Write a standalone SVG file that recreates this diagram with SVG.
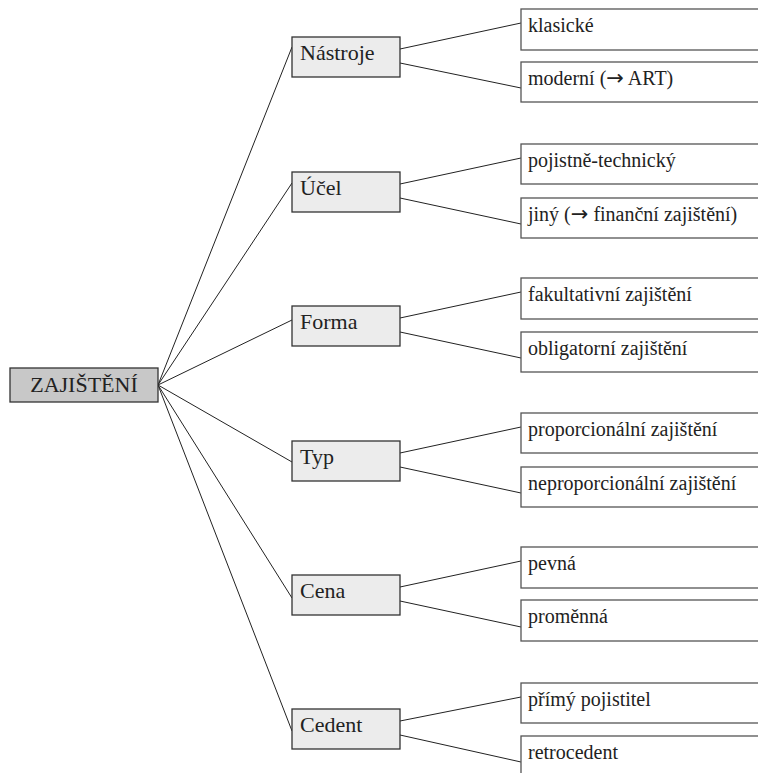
<svg xmlns="http://www.w3.org/2000/svg" width="758" height="773" viewBox="0 0 758 773">
<style>
text{font-family:"Liberation Serif","Times New Roman",serif;fill:#222}
.arr{font-family:"DejaVu Sans",sans-serif;font-size:21px}
.root rect{fill:#c8c8c8;stroke:#333;stroke-width:1.3}
.mid rect{fill:#ececec;stroke:#333;stroke-width:1.3}
.leaf rect{fill:#fff;stroke:#555;stroke-width:1.3}
.mid text,.root text{font-size:22px}
.leaf text{font-size:20px}
#connectors line{stroke:#222;stroke-width:1}
</style>
<rect width="758" height="773" fill="#fff"/>
<g id="connectors">
<line x1="158" y1="385" x2="292" y2="47"/>
<line x1="158" y1="385" x2="292" y2="183"/>
<line x1="158" y1="385" x2="292" y2="320"/>
<line x1="158" y1="385" x2="292" y2="462"/>
<line x1="158" y1="385" x2="292" y2="598"/>
<line x1="158" y1="385" x2="292" y2="731"/>
<line x1="400" y1="49" x2="521" y2="23"/>
<line x1="400" y1="63" x2="521" y2="88"/>
<line x1="400" y1="184" x2="521" y2="158"/>
<line x1="400" y1="198" x2="521" y2="224"/>
<line x1="400" y1="318" x2="521" y2="292"/>
<line x1="400" y1="332" x2="521" y2="358"/>
<line x1="400" y1="453" x2="521" y2="427"/>
<line x1="400" y1="467" x2="521" y2="493"/>
<line x1="400" y1="587" x2="521" y2="561"/>
<line x1="400" y1="601" x2="521" y2="627"/>
<line x1="400" y1="721" x2="521" y2="697"/>
<line x1="400" y1="735" x2="521" y2="762"/>
</g>
<g id="root" class="root"><rect x="10" y="368" width="148" height="34"/><text x="84" y="392" text-anchor="middle">ZAJIŠTĚNÍ</text></g>
<g id="nastroje" class="mid"><rect x="292" y="37" width="108" height="40"/><text x="300" y="60">Nástroje</text></g>
<g id="ucel" class="mid"><rect x="292" y="172" width="108" height="40"/><text x="300" y="195">Účel</text></g>
<g id="forma" class="mid"><rect x="292" y="306" width="108" height="40"/><text x="300" y="329">Forma</text></g>
<g id="typ" class="mid"><rect x="292" y="441" width="108" height="40"/><text x="300" y="464">Typ</text></g>
<g id="cena" class="mid"><rect x="292" y="575" width="108" height="40"/><text x="300" y="598">Cena</text></g>
<g id="cedent" class="mid"><rect x="292" y="709" width="108" height="40"/><text x="300" y="732">Cedent</text></g>
<g id="klasicke" class="leaf"><rect x="521" y="9" width="250" height="41"/><text x="528" y="32">klasické</text></g>
<g id="moderni" class="leaf"><rect x="521" y="62" width="250" height="40"/><text x="528" y="85">moderní (<tspan class="arr">→</tspan> ART)</text></g>
<g id="pojistne" class="leaf"><rect x="521" y="144" width="250" height="40"/><text x="528" y="167">pojistně-technický</text></g>
<g id="jiny" class="leaf"><rect x="521" y="198" width="250" height="40"/><text x="528" y="221">jiný (<tspan class="arr">→</tspan> finanční zajištění)</text></g>
<g id="fakultativni" class="leaf"><rect x="521" y="278" width="250" height="41"/><text x="528" y="301">fakultativní zajištění</text></g>
<g id="obligatorni" class="leaf"><rect x="521" y="332" width="250" height="40"/><text x="528" y="355">obligatorní zajištění</text></g>
<g id="proporcionalni" class="leaf"><rect x="521" y="413" width="250" height="40"/><text x="528" y="436">proporcionální zajištění</text></g>
<g id="neproporcionalni" class="leaf"><rect x="521" y="467" width="250" height="40"/><text x="528" y="490">neproporcionální zajištění</text></g>
<g id="pevna" class="leaf"><rect x="521" y="547" width="250" height="41"/><text x="528" y="570">pevná</text></g>
<g id="promenna" class="leaf"><rect x="521" y="600" width="250" height="41"/><text x="528" y="623">proměnná</text></g>
<g id="primy" class="leaf"><rect x="521" y="683" width="250" height="40"/><text x="528" y="706">přímý pojistitel</text></g>
<g id="retrocedent" class="leaf"><rect x="521" y="736" width="250" height="45"/><text x="528" y="759">retrocedent</text></g>
</svg>
